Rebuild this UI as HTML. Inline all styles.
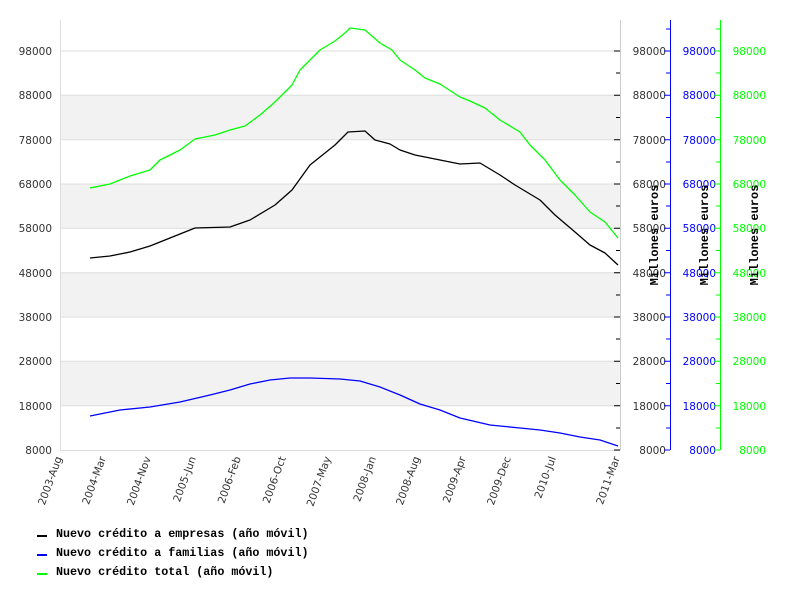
<!DOCTYPE html>
<html><head><meta charset="utf-8"><style>body{margin:0;background:#fff}svg{display:block}</style></head><body>
<svg width="800" height="600" xmlns="http://www.w3.org/2000/svg" font-family="DejaVu Sans, sans-serif" font-size="10.5">
<rect width="800" height="600" fill="#fff"/>
<rect x="60" y="95" width="560" height="44.3" fill="#f2f2f2"/>
<rect x="60" y="184.3" width="560" height="44.3" fill="#f2f2f2"/>
<rect x="60" y="273" width="560" height="44.3" fill="#f2f2f2"/>
<rect x="60" y="361.3" width="560" height="44.3" fill="#f2f2f2"/>
<g stroke="#ddd" stroke-width="1">
<line x1="60" y1="51" x2="620" y2="51"/><line x1="60" y1="95.3" x2="620" y2="95.3"/><line x1="60" y1="139.7" x2="620" y2="139.7"/><line x1="60" y1="184" x2="620" y2="184"/><line x1="60" y1="228.3" x2="620" y2="228.3"/><line x1="60" y1="272.7" x2="620" y2="272.7"/><line x1="60" y1="317" x2="620" y2="317"/><line x1="60" y1="361.3" x2="620" y2="361.3"/><line x1="60" y1="405.7" x2="620" y2="405.7"/>
<line x1="60.5" y1="20" x2="60.5" y2="450"/><line x1="60" y1="450.5" x2="620" y2="450.5"/>
</g>
<line x1="620.5" y1="20" x2="620.5" y2="450" stroke="#ccc"/>
<line x1="670.5" y1="20" x2="670.5" y2="450" stroke="#00f"/>
<line x1="720.5" y1="20" x2="720.5" y2="450" stroke="#0f0"/>
<g fill="#333" text-anchor="end">
<text x="52" y="55">98000</text><text x="52" y="99">88000</text><text x="52" y="144">78000</text><text x="52" y="188">68000</text><text x="52" y="232">58000</text><text x="52" y="277">48000</text><text x="52" y="321">38000</text><text x="52" y="365">28000</text><text x="52" y="410">18000</text><text x="52" y="454">8000</text>
</g>
<g fill="#333" text-anchor="end"><text x="666" y="55">98000</text><text x="666" y="99">88000</text><text x="666" y="144">78000</text><text x="666" y="188">68000</text><text x="666" y="232">58000</text><text x="666" y="277">48000</text><text x="666" y="321">38000</text><text x="666" y="365">28000</text><text x="666" y="410">18000</text><text x="666" y="454">8000</text></g>
<g fill="#00f" text-anchor="end"><text x="716" y="55">98000</text><text x="716" y="99">88000</text><text x="716" y="144">78000</text><text x="716" y="188">68000</text><text x="716" y="232">58000</text><text x="716" y="277">48000</text><text x="716" y="321">38000</text><text x="716" y="365">28000</text><text x="716" y="410">18000</text><text x="716" y="454">8000</text></g>
<g fill="#0f0" text-anchor="end"><text x="766" y="55">98000</text><text x="766" y="99">88000</text><text x="766" y="144">78000</text><text x="766" y="188">68000</text><text x="766" y="232">58000</text><text x="766" y="277">48000</text><text x="766" y="321">38000</text><text x="766" y="365">28000</text><text x="766" y="410">18000</text><text x="766" y="454">8000</text></g>
<g font-family="Liberation Mono, monospace" font-weight="bold" font-size="12" fill="#000" text-anchor="middle">
<text transform="translate(658,235) rotate(-90)">Millones euros</text>
<text transform="translate(708,235) rotate(-90)">Millones euros</text>
<text transform="translate(758,235) rotate(-90)">Millones euros</text>
</g>
<g fill="#333" text-anchor="end" font-size="10.5">
<text transform="translate(62,458) rotate(-70)">2003-Aug</text>
<text transform="translate(106,458) rotate(-70)">2004-Mar</text>
<text transform="translate(151,458) rotate(-70)">2004-Nov</text>
<text transform="translate(196,458) rotate(-70)">2005-Jun</text>
<text transform="translate(241,458) rotate(-70)">2006-Feb</text>
<text transform="translate(286,458) rotate(-70)">2006-Oct</text>
<text transform="translate(331,458) rotate(-70)">2007-May</text>
<text transform="translate(376,458) rotate(-70)">2008-Jan</text>
<text transform="translate(420,458) rotate(-70)">2008-Aug</text>
<text transform="translate(466,458) rotate(-70)">2009-Apr</text>
<text transform="translate(511,458) rotate(-70)">2009-Dec</text>
<text transform="translate(556,458) rotate(-70)">2010-Jul</text>
<text transform="translate(620,458) rotate(-70)">2011-Mar</text>
</g>
<g fill="none" stroke-width="1.3" stroke-linejoin="round">
<polyline stroke="#000" points="90,258 110,256 130,252 150,246 170,238 195,228 230,227 250,220 275,205 292,190 310,165 335,145 348,132 365,131 375,140 390,144 400,150 415,155 430,158 460,164 480,163 500,175 515,185 540,200 555,215 575,232 590,245 605,253 618,265"/>
<polyline stroke="#0f0" points="90,188 110,184 130,176 150,170 160,160 180,150 195,139 215,135 230,130 245,126 260,115 275,102 292,85 300,70 320,50 335,41 345,33 350,28 365,30 380,43 392,50 400,60 415,70 425,78 440,84 460,97 470,101 485,108 500,120 520,132 530,145 545,160 560,180 575,195 590,212 605,222 618,238"/>
<polyline stroke="#00f" points="90,416 120,410 150,407 180,402 210,395 230,390 250,384 270,380 290,378 310,378 340,379 360,381 380,387 400,395 420,404 440,410 460,418 490,425 520,428 540,430 560,433 580,437 600,440 618,446"/>
</g>
<g stroke-width="2"><line x1="37" y1="536" x2="47" y2="536" stroke="#000"/><line x1="37" y1="555" x2="47" y2="555" stroke="#00f"/><line x1="37" y1="574" x2="47" y2="574" stroke="#0f0"/></g>
<g font-family="Liberation Mono, monospace" font-weight="bold" font-size="11.7" fill="#000">
<text x="56" y="537">Nuevo crédito a empresas (año móvil)</text>
<text x="56" y="556">Nuevo crédito a familias (año móvil)</text>
<text x="56" y="575">Nuevo crédito total (año móvil)</text>
</g>
<g stroke-width="1">
<path stroke="#000" d="M614 51h6M614 95.3h6M614 139.7h6M614 184h6M614 228.3h6M614 272.7h6M614 317h6M614 361.3h6M614 405.7h6M614 450h6M616 73h4M616 117.5h4M616 162h4M616 206h4M616 250.5h4M616 295h4M616 339h4M616 383.5h4M616 428h4"/>
<path stroke="#00f" d="M664 51h6M664 95.3h6M664 139.7h6M664 184h6M664 228.3h6M664 272.7h6M664 317h6M664 361.3h6M664 405.7h6M664 450h6M666 73h4M666 117.5h4M666 162h4M666 206h4M666 250.5h4M666 295h4M666 339h4M666 383.5h4M666 428h4M666 29h4"/>
<path stroke="#0f0" d="M714 51h6M714 95.3h6M714 139.7h6M714 184h6M714 228.3h6M714 272.7h6M714 317h6M714 361.3h6M714 405.7h6M714 450h6M716 73h4M716 117.5h4M716 162h4M716 206h4M716 250.5h4M716 295h4M716 339h4M716 383.5h4M716 428h4M716 29h4"/>
</g>
</svg>
</body></html>
